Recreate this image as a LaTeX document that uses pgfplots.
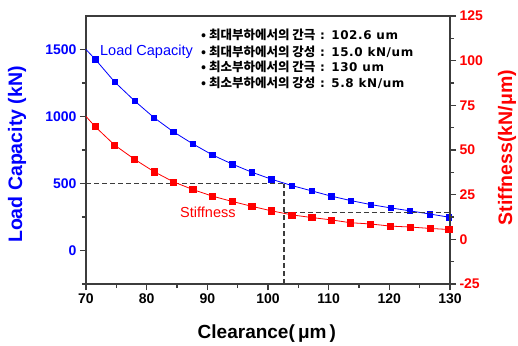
\documentclass[border=0pt]{standalone}
\usepackage{fontspec}
\setmainfont{Liberation Sans}
\newfontfamily\kr{Noto Sans CJK KR}
\newfontfamily\latb[LetterSpace=5]{DejaVu Sans Bold}
\usepackage{pgfplots}
\usepackage{pgfplotstable}
\pgfplotsset{compat=1.18}
\definecolor{axgray}{RGB}{60,60,60}
\definecolor{dgray}{RGB}{60,60,60}
\definecolor{cblue}{RGB}{0,0,255}
\definecolor{cred}{RGB}{255,0,0}
\newcommand{\kline}[2]{{\kr\bfseries\fontsize{12.5}{12.5}\selectfont • #1}{\latb\fontsize{12}{12}\selectfont{} #2}}

\pgfplotstableread{
x y
70.0 1500
71.5 1428
74.7 1259
78.0 1117
81.2 992
84.4 886
87.6 796
90.8 714
94.1 645
97.3 585
100.5 533
103.9 485
107.2 445
110.4 406
113.6 373
116.9 343
120.2 318
123.4 296
126.7 272
129.8 249
}\loadtable

\pgfplotstableread{
x y
70.0 68.8
71.5 63.1
74.7 52.8
78.0 44.8
81.2 37.9
84.4 32.2
87.6 27.9
90.8 24.2
94.1 21.2
97.3 18.5
100.5 16.0
103.9 13.7
107.2 12.2
110.4 10.9
113.6 9.3
116.9 8.6
120.2 7.4
123.4 6.9
126.7 6.1
129.8 5.5
}\stifftable

\begin{document}
\begin{tikzpicture}
\useasboundingbox (-86pt,-61pt) rectangle (432pt,284pt);
\begin{axis}[
  at={(0pt,0pt)}, anchor=south west,
  scale only axis, width=364pt, height=268pt,
  xmin=70, xmax=130, ymin=-250, ymax=1750,
  clip=false,
  /pgf/number format/.cd, assume math mode=true, 1000 sep={}, /pgfplots/.cd,
  xtick={70,80,...,130}, minor xtick={75,85,...,125},
  ytick={0,500,1000,1500}, minor ytick={-250,250,750,1250},
  tick align=outside, xtick pos=left, ytick pos=left,
  major tick length=6pt, minor tick length=4pt,
  axis line style={line width=1.2pt, axgray},
  every tick/.style={axgray, line width=1.2pt},
  tick label style={font=\fontsize{14}{14}\selectfont\bfseries},
  yticklabel style={cblue},
  xlabel={Clearance(\,μm\,)},
  ylabel={Load Capacity (kN)},
  every axis x label/.style={at={(rel axis cs:0.497,0)}, anchor=center, yshift=-50pt, font=\fontsize{19}{19}\selectfont\bfseries},
  every axis y label/.style={at={(rel axis cs:0,0.483)}, anchor=center, xshift=-69pt, rotate=90, font=\fontsize{19.5}{19.5}\selectfont\bfseries, text=cblue},
]
\addplot[dgray, line width=1.7pt, dash pattern=on 5pt off 3pt] coordinates {(70,500) (102.6,500)};
\addplot[dgray, line width=1.7pt, dash pattern=on 5pt off 3pt] coordinates {(102.6,-250) (102.6,500)};
\addplot[cblue, line width=0.8pt, no marks] table[x=x,y=y] {\loadtable};
\addplot[cblue, only marks, mark=square*, mark size=2.7pt, skip coords between index={0}{1}] table[x=x,y=y] {\loadtable};
\node[anchor=west, inner sep=0pt, text=cblue, font=\fontsize{14.5}{14.5}\selectfont] at (axis cs:72.3,1482) {Load Capacity};
\node[anchor=west, inner sep=0pt, text=cred, font=\fontsize{14.5}{14.5}\selectfont] at (axis cs:85.5,283) {Stiffness};
\node[anchor=west, inner sep=0pt] at (axis cs:88.95,1609) {\kline{최대부하에서의 간극}{: 102.6 um}};
\node[anchor=west, inner sep=0pt] at (axis cs:88.95,1485) {\kline{최대부하에서의 강성}{: 15.0 kN/um}};
\node[anchor=west, inner sep=0pt] at (axis cs:88.95,1373) {\kline{최소부하에서의 간극}{: 130 um}};
\node[anchor=west, inner sep=0pt] at (axis cs:88.95,1253) {\kline{최소부하에서의 강성}{: 5.8 kN/um}};
\end{axis}
\begin{axis}[
  at={(0pt,0pt)}, anchor=south west,
  scale only axis, width=364pt, height=268pt,
  xmin=70, xmax=130, ymin=-25, ymax=125,
  clip=false,
  /pgf/number format/.cd, assume math mode=true, 1000 sep={}, /pgfplots/.cd,
  axis x line=none, axis y line*=right,
  ytick={-25,0,...,125}, minor ytick={-12.5,12.5,...,112.5},
  tick align=outside,
  major tick length=6pt, minor tick length=4pt,
  axis line style={line width=1.2pt, axgray, -},
  every tick/.style={axgray, line width=1.2pt},
  tick label style={font=\fontsize{14}{14}\selectfont\bfseries},
  yticklabel style={cred},
  ylabel={Stiffness(kN/μm)},
  every axis y label/.style={at={(rel axis cs:1,0.509)}, anchor=center, xshift=57pt, rotate=90, font=\fontsize{19.5}{19.5}\selectfont\bfseries, text=cred},
]
\addplot[dgray, line width=1.7pt, dash pattern=on 5pt off 3pt] coordinates {(102.6,15) (130,15)};
\addplot[cred, line width=0.8pt, no marks] table[x=x,y=y] {\stifftable};
\addplot[cred, only marks, mark=square*, mark size=3.1pt, skip coords between index={0}{1}] table[x=x,y=y] {\stifftable};
\end{axis}
\end{tikzpicture}
\end{document}
